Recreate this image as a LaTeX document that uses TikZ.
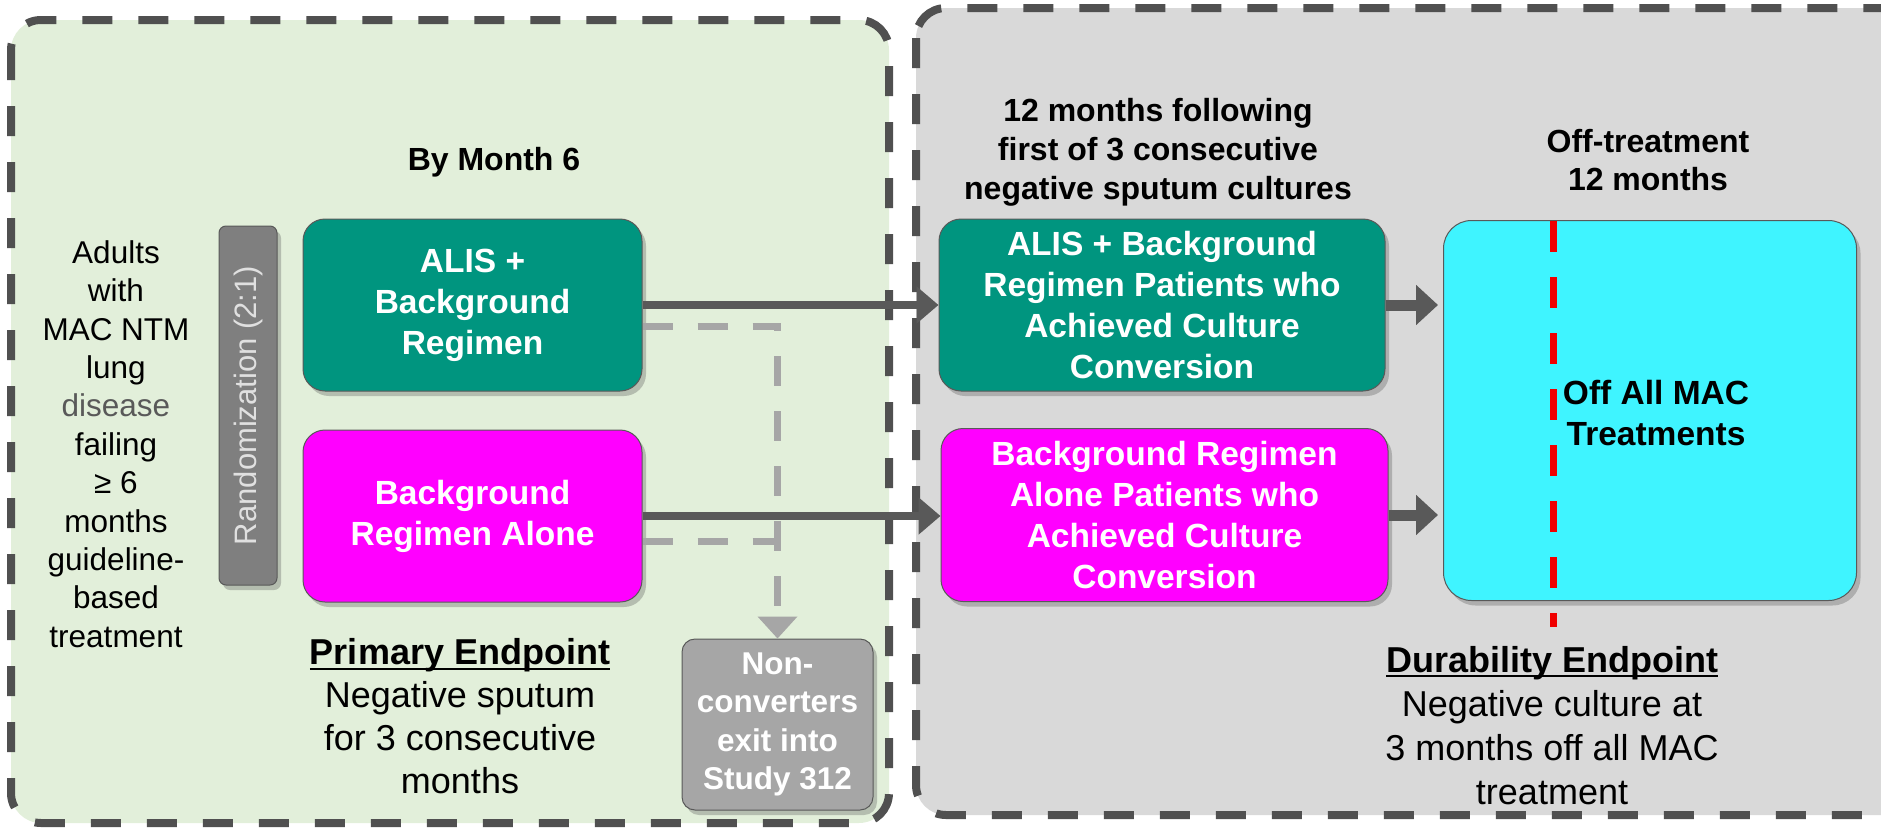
\documentclass[tikz,border=0pt]{standalone}
\usepackage{fontspec}
\setmainfont{Liberation Sans}
\usetikzlibrary{arrows.meta,shadows,calc}
\definecolor{greenbg}{HTML}{E2EFDA}
\definecolor{graybg}{HTML}{D9D9D9}
\definecolor{borderc}{HTML}{505050}
\definecolor{tealc}{HTML}{00957F}
\definecolor{magc}{HTML}{FF00FF}
\definecolor{cyanc}{HTML}{3FF4FF}
\definecolor{randc}{HTML}{7F7F7F}
\definecolor{randtxt}{HTML}{E0E0E0}
\definecolor{nonc}{HTML}{A6A6A6}
\definecolor{arrc}{HTML}{595959}
\definecolor{disc}{HTML}{595959}
\definecolor{redc}{HTML}{F00000}
\newcommand\ulin[1]{\setbox0\hbox{#1}\rlap{\rule[-5pt]{\wd0}{2.2pt}}\box0}
\tikzset{
  panel/.style={draw=borderc, line width=8pt, dash pattern=on 30pt off 26pt, rounded corners=30pt},
  box/.style={draw=black!65, line width=1pt, rounded corners=22pt, text=white, align=center, inner sep=0pt,
    font=\bfseries\fontsize{33.5}{41}\selectfont,
    drop shadow={opacity=0.3, shadow xshift=4pt, shadow yshift=-5pt, fill=black!70}},
  mainarrow/.style={draw=arrc, line width=8pt, -{Triangle[length=22pt,width=36pt]}},
  smallarrow/.style={draw=arrc, line width=11pt, -{Triangle[length=22pt,width=39pt]}},
  grayarrow/.style={draw=nonc, line width=7pt, dash pattern=on 30pt off 25pt},
  label/.style={align=center, inner sep=0pt},
}
\begin{document}
\begin{tikzpicture}[x=1pt,y=-1pt]
\useasboundingbox (0,0) rectangle (1881,827);
% panels
\fill[greenbg, rounded corners=30pt] (11,20) rectangle (889,823);
\fill[graybg, rounded corners=30pt] (916,8) rectangle (1920,815);
\draw[panel] (11,20) rectangle (889,823);
\draw[panel] (916,8) rectangle (1920,815);

% left texts
\node[label, font=\fontsize{31.5}{38.4}\selectfont] (adults) at (116,444)
  {Adults\\with\\MAC NTM\\lung\\{\color{disc}disease}\\failing\\≥ 6\\months\\guideline-\\based\\treatment};
\node[label, font=\bfseries\fontsize{32}{39}\selectfont] (bymonth) at (494,162) {By Month 6};

\node[box, fill=randc, rounded corners=7pt, minimum width=58pt, minimum height=359pt] (rand) at (248,405.5) {};
\node[label, rotate=90, text=randtxt, font=\fontsize{31}{36}\selectfont] (randtxt) at ($(rand.center)+(0,0)$) {Randomization (2:1)};

\node[box, fill=tealc, minimum width=339pt, minimum height=172pt] (alis) at (472.5,305) {ALIS +\\Background\\Regimen};
\node[box, fill=magc, minimum width=339pt, minimum height=172pt] (bra) at (472.5,516) {Background\\Regimen Alone};

\node[box, fill=nonc, rounded corners=13pt, minimum width=191pt, minimum height=171pt,
  font=\bfseries\fontsize{31.5}{38.5}\selectfont] (nonconv) at (777.5,724.5) {Non-\\converters\\exit into\\Study 312};

\node[label, font=\fontsize{36}{43}\selectfont] (primary) at (460,716.5)
  {\ulin{\bfseries Primary Endpoint}\\Negative sputum\\for 3 consecutive\\months};

% right texts
\node[label, font=\bfseries\fontsize{32}{39}\selectfont] (twelve) at (1158,152)
  {12 months following\\first of 3 consecutive\\negative sputum cultures};
\node[label, font=\bfseries\fontsize{32}{38}\selectfont] (offtreat) at (1648,160)
  {Off-treatment\\12 months};

\node[box, fill=tealc, minimum width=446pt, minimum height=172pt] (alisP) at (1162,305)
  {ALIS + Background\\Regimen Patients who\\Achieved Culture\\Conversion};
\node[box, fill=magc, minimum width=447pt, minimum height=173pt] (braP) at (1164.5,515)
  {Background Regimen\\Alone Patients who\\Achieved Culture\\Conversion};

\node[box, fill=cyanc, rounded corners=28pt, minimum width=413pt, minimum height=380pt] (off) at (1650,410.5) {};
\coordinate (redtop) at (1553.5,221);
\coordinate (redbot) at (1553.5,627);
\draw[redc, line width=7.5pt, dash pattern=on 31pt off 25pt] (redtop) -- (redbot);
\node[label, font=\bfseries\fontsize{33.5}{41}\selectfont] (offtxt) at (1656,413) {Off All MAC\\Treatments};

\node[label, font=\fontsize{36}{44}\selectfont] (durab) at (1552,725.5)
  {\ulin{\bfseries Durability Endpoint}\\Negative culture at\\3 months off all MAC\\treatment};

% arrows
\draw[mainarrow] (alis.east) -- (alis.east -| alisP.west);
\draw[mainarrow] (bra.east) -- (bra.east -| braP.west);
\draw[smallarrow, shorten >=5pt] (alisP.east) -- (alisP.east -| off.west);
\draw[smallarrow, shorten >=5pt] (braP.east) -- (braP.east -| off.west);

\coordinate (g1) at ($(alis.east)+(0,21)$);
\coordinate (g2) at ($(bra.east)+(0,25)$);
\draw[grayarrow] (g1) -| ($(nonconv.north)+(0,-20)$);
\draw[grayarrow] (g2) -- (g2 -| nonconv.north);
\draw[draw=none, fill=nonc] (nonconv.north) -- ++(-20,-22) -- ++(40,0) -- cycle;
\end{tikzpicture}
\end{document}
